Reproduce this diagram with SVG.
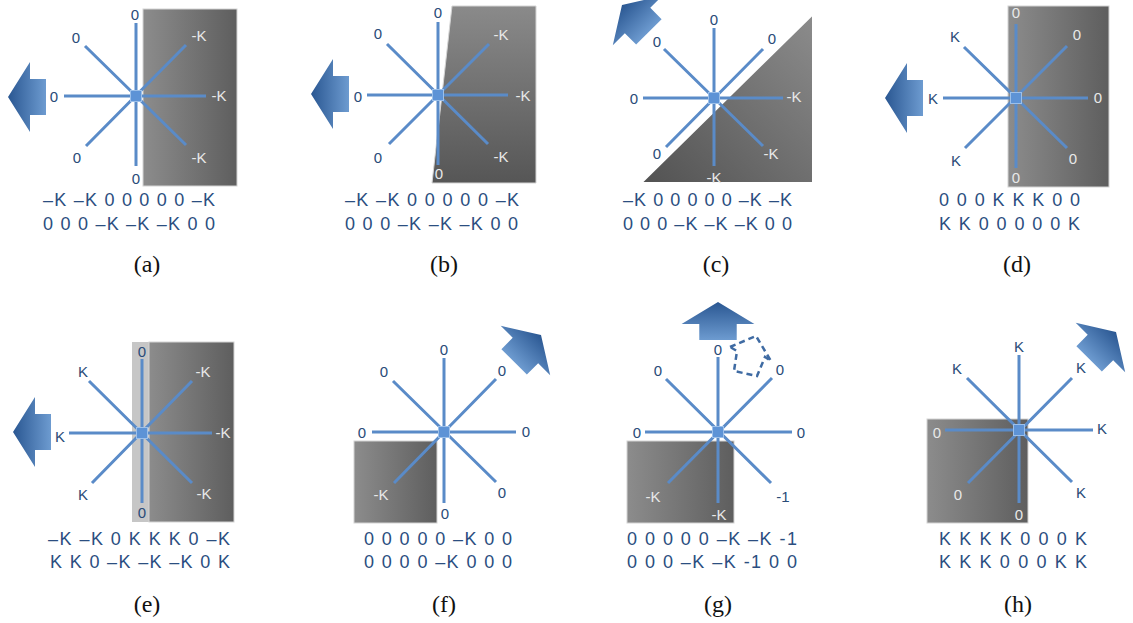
<svg xmlns="http://www.w3.org/2000/svg" width="1133" height="623" viewBox="0 0 1133 623">
<defs>
<linearGradient id="arrowG" x1="0" y1="0" x2="1" y2="0"><stop offset="0" stop-color="#2a5792"/><stop offset="1" stop-color="#6d9bd0"/></linearGradient>
<linearGradient id="grayH" x1="0" y1="0" x2="1" y2="0"><stop offset="0" stop-color="#8c8c8c"/><stop offset="1" stop-color="#5e5e5e"/></linearGradient>
<linearGradient id="grayV" x1="0" y1="0" x2="0" y2="1"><stop offset="0" stop-color="#8a8a8a"/><stop offset="1" stop-color="#565656"/></linearGradient>
<linearGradient id="grayD" x1="1" y1="0" x2="0" y2="1"><stop offset="0" stop-color="#8c8c8c"/><stop offset="1" stop-color="#525252"/></linearGradient>
<polygon id="arr" points="0,0 22,-35 22,-18 38,-18 38,18 22,18 22,35"/>
</defs>
<style>
.ray{stroke:#5a8bc8;stroke-width:3;fill:none}
.hub{fill:#5d93d6;stroke:#9cc0ea;stroke-width:1}
.gray{stroke:#d4d4d4;stroke-width:1}
.lbl{font-family:"Liberation Sans",Arial,sans-serif;font-size:15px;text-anchor:middle;fill:#2a4b78}
.lt{fill:#e8e8e8}
.row{font-family:"Liberation Sans",Arial,sans-serif;font-size:18px;fill:#2b4e80}
.cap{font-family:"Liberation Serif","Times New Roman",serif;font-size:24px;text-anchor:middle;fill:#111}
.arw{fill:url(#arrowG)}
</style>
<rect width="1133" height="623" fill="#fff"/>

<g id="panel-a">
<rect class="gray" x="143" y="9" width="94" height="177" fill="url(#grayH)"/>
<use href="#arr" class="arw" transform="translate(8,97)"/>
<text class="lbl" x="135" y="20">0</text><text class="lbl" x="76" y="43">0</text><text class="lbl" x="54" y="102">0</text><text class="lbl" x="77" y="163">0</text><text class="lbl" x="136" y="184">0</text>
<text class="lbl lt" x="199" y="41">-K</text><text class="lbl lt" x="219" y="101">-K</text><text class="lbl lt" x="199" y="163">-K</text>
<text class="row" x="43" y="206" textLength="172" lengthAdjust="spacing">–K –K 0 0 0 0 0 –K</text>
<text class="row" x="43" y="230" textLength="172" lengthAdjust="spacing">0 0 0 –K –K –K 0 0</text>
<text class="cap" x="147" y="272">(a)</text>
</g>

<g id="panel-b">
<polygon class="gray" points="452,6 536,6 536,183 432,183" fill="url(#grayV)"/>
<use href="#arr" class="arw" transform="translate(311,94)"/>
<text class="lbl" x="438" y="18">0</text><text class="lbl" x="378" y="39">0</text><text class="lbl" x="358" y="102">0</text><text class="lbl" x="378" y="163">0</text><text class="lbl lt" x="439" y="179">0</text>
<text class="lbl lt" x="501" y="40">-K</text><text class="lbl lt" x="523" y="101">-K</text><text class="lbl lt" x="501" y="162">-K</text>
<text class="row" x="345" y="206" textLength="174" lengthAdjust="spacing">–K –K 0 0 0 0 0 –K</text>
<text class="row" x="345" y="230" textLength="173" lengthAdjust="spacing">0 0 0 –K –K –K 0 0</text>
<text class="cap" x="444" y="272">(b)</text>
</g>

<g id="panel-c">
<polygon points="813,14 813,183 641,183" fill="url(#grayD)" stroke="#ffffff" stroke-width="2"/>
<use href="#arr" class="arw" transform="translate(622,5) rotate(45)"/>
<text class="lbl" x="714" y="25">0</text><text class="lbl" x="657" y="47">0</text><text class="lbl" x="772" y="44">0</text><text class="lbl" x="634" y="104">0</text><text class="lbl" x="657" y="159">0</text>
<text class="lbl lt" x="714" y="183">-K</text><text class="lbl lt" x="771" y="159">-K</text><text class="lbl lt" x="794" y="102">-K</text>
<text class="row" x="623" y="206" textLength="169" lengthAdjust="spacing">–K 0 0 0 0 0 –K –K</text>
<text class="row" x="623" y="230" textLength="169" lengthAdjust="spacing">0 0 0 –K –K –K 0 0</text>
<text class="cap" x="716" y="272">(c)</text>
</g>

<g id="panel-d">
<rect class="gray" x="1008" y="6" width="101" height="181" fill="url(#grayH)"/>
<use href="#arr" class="arw" transform="translate(885,98)"/>
<text class="lbl" x="955" y="42">K</text><text class="lbl" x="933" y="104">K</text><text class="lbl" x="956" y="166">K</text>
<text class="lbl lt" x="1016" y="18">0</text><text class="lbl lt" x="1077" y="40">0</text><text class="lbl lt" x="1098" y="103">0</text><text class="lbl lt" x="1073" y="164">0</text><text class="lbl lt" x="1016" y="183">0</text>
<text class="row" x="939" y="206" textLength="141" lengthAdjust="spacing">0 0 0 K K K 0 0</text>
<text class="row" x="939" y="230" textLength="141" lengthAdjust="spacing">K K 0 0 0 0 0 K</text>
<text class="cap" x="1017" y="272">(d)</text>
</g>

<g id="panel-e">
<rect x="132" y="342" width="17" height="180" fill="#c6c6c6"/>
<rect class="gray" x="149" y="342" width="85" height="180" fill="url(#grayH)"/>
<use href="#arr" class="arw" transform="translate(13,432)"/>
<text class="lbl" x="142" y="357">0</text><text class="lbl" x="83" y="377">K</text><text class="lbl" x="60" y="442">K</text><text class="lbl" x="83" y="500">K</text><text class="lbl" x="142" y="518">0</text>
<text class="lbl lt" x="203" y="377">-K</text><text class="lbl lt" x="223" y="438">-K</text><text class="lbl lt" x="204" y="499">-K</text>
<text class="row" x="48" y="545" textLength="182" lengthAdjust="spacing">–K –K 0 K K K 0 –K</text>
<text class="row" x="50" y="568" textLength="180" lengthAdjust="spacing">K K 0 –K –K –K 0 K</text>
<text class="cap" x="147" y="612">(e)</text>
</g>

<g id="panel-f">
<rect class="gray" x="354" y="441" width="83" height="82" fill="url(#grayH)"/>
<use href="#arr" class="arw" transform="translate(541,335) rotate(135)"/>
<text class="lbl" x="444" y="355">0</text><text class="lbl" x="384" y="377">0</text><text class="lbl" x="502" y="376">0</text><text class="lbl" x="362" y="438">0</text><text class="lbl" x="526" y="437">0</text><text class="lbl" x="502" y="498">0</text><text class="lbl" x="445" y="519">0</text>
<text class="lbl lt" x="381" y="500">-K</text>
<text class="row" x="364" y="545" textLength="148" lengthAdjust="spacing">0 0 0 0 0 –K 0 0</text>
<text class="row" x="364" y="568" textLength="148" lengthAdjust="spacing">0 0 0 0 –K 0 0 0</text>
<text class="cap" x="444" y="612">(f)</text>
</g>

<g id="panel-g">
<rect class="gray" x="627" y="441" width="107" height="82" fill="url(#grayH)"/>
<use href="#arr" class="arw" transform="translate(718,302) rotate(90) scale(1,1.04)"/>
<polygon points="730,347 756,336 771,361 765,357 757,376 734,371 737,351" fill="none" stroke="#3f6ba3" stroke-width="2.5" stroke-dasharray="6,4"/>
<text class="lbl" x="718" y="355">0</text><text class="lbl" x="658" y="376">0</text><text class="lbl" x="780" y="375">0</text><text class="lbl" x="637" y="438">0</text><text class="lbl" x="801" y="438">0</text><text class="lbl" x="783" y="502">-1</text>
<text class="lbl lt" x="653" y="502">-K</text><text class="lbl lt" x="719" y="520">-K</text>
<text class="row" x="627" y="545" textLength="170" lengthAdjust="spacing">0 0 0 0 0 –K –K -1</text>
<text class="row" x="627" y="568" textLength="170" lengthAdjust="spacing">0 0 0 –K –K -1 0 0</text>
<text class="cap" x="718" y="612">(g)</text>
</g>

<g id="panel-h">
<rect class="gray" x="927" y="419" width="101" height="104" fill="url(#grayH)"/>
<use href="#arr" class="arw" transform="translate(1116,332) rotate(135)"/>
<text class="lbl" x="1019" y="352">K</text><text class="lbl" x="957" y="374">K</text><text class="lbl" x="1081" y="373">K</text><text class="lbl" x="1102" y="434">K</text><text class="lbl" x="1081" y="498">K</text>
<text class="lbl lt" x="937" y="438">0</text><text class="lbl lt" x="958" y="500">0</text><text class="lbl lt" x="1019" y="520">0</text>
<text class="row" x="939" y="545" textLength="148" lengthAdjust="spacing">K K K K 0 0 0 K</text>
<text class="row" x="939" y="568" textLength="148" lengthAdjust="spacing">K K K 0 0 0 K K</text>
<text class="cap" x="1018" y="612">(h)</text>
</g>

<g id="connectors">
<g class="ray">
<path d="M136,23V166M64,96H206M85,46L186,145M186,45L86,146"/>
<path d="M438,22V165M367,95H508M387,44L488,144M489,44L389,144"/>
<path d="M714,28V166M643,98H783M664,49L763,146M763,49L666,147"/>
<path d="M1016,24V168M943,98H1088M964,47L1067,148M1067,46L965,148"/>
<path d="M142,359V503M69,433H212M89,381L192,483M192,381L92,483"/>
<path d="M444,358V503M372,432H516M393,381L496,482M496,379L394,483"/>
<path d="M718,357V503M645,432H792M666,379L771,483M772,378L668,483"/>
<path d="M1019,355V503M945,430H1093M967,378L1072,482M1072,378L968,483"/>
</g>
<rect class="hub" x="130.5" y="90.5" width="11" height="11"/>
<rect class="hub" x="432.5" y="89.5" width="11" height="11"/>
<rect class="hub" x="708.5" y="92.5" width="11" height="11"/>
<rect class="hub" x="1010.5" y="92.5" width="11" height="11"/>
<rect class="hub" x="136.5" y="427.5" width="11" height="11"/>
<rect class="hub" x="438.5" y="426.5" width="11" height="11"/>
<rect class="hub" x="712.5" y="426.5" width="11" height="11"/>
<rect class="hub" x="1013.5" y="424.5" width="11" height="11"/>
</g>
</svg>
